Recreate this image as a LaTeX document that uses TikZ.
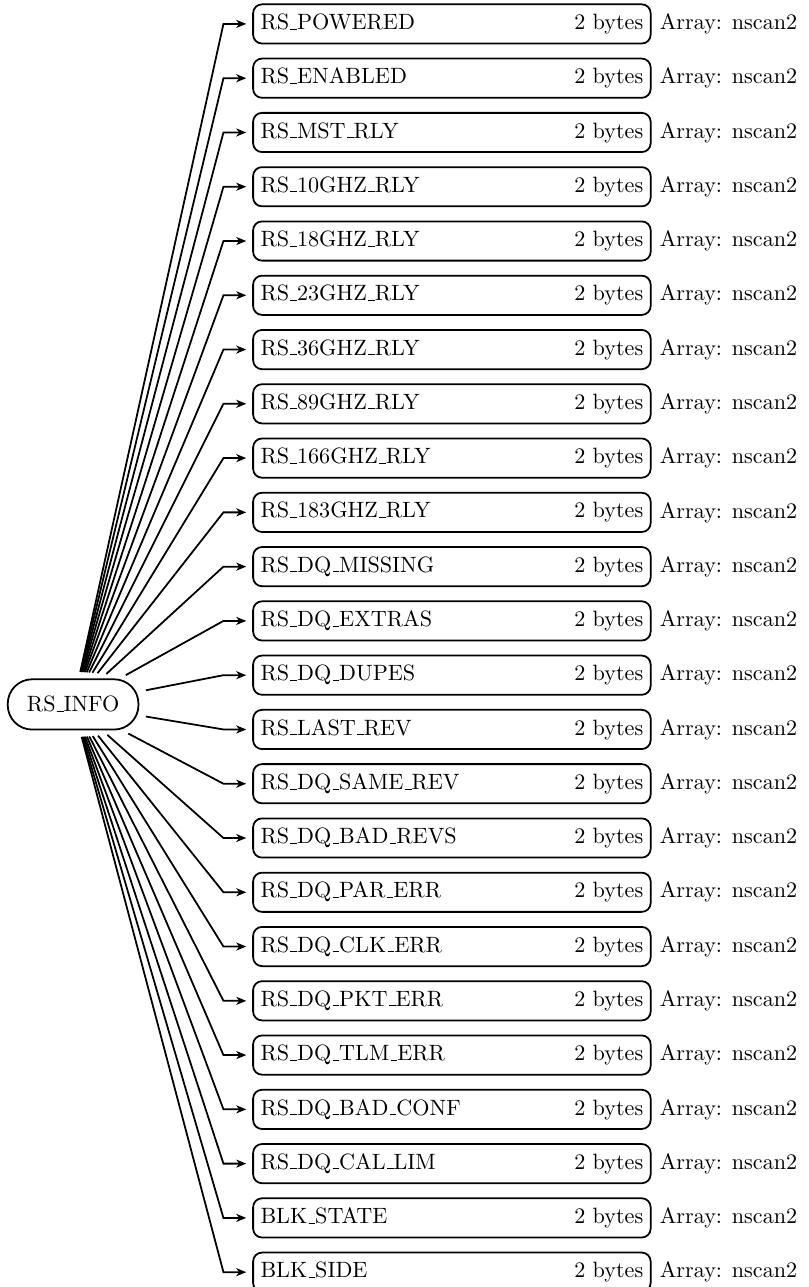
\documentclass[tikz,border=0pt]{standalone}
\usetikzlibrary{positioning,arrows.meta}
% short rule underscore, as in the classic OT1 fonts
\newcommand\us{\leavevmode\kern.06em\vbox{\hrule width.3em}}
\tikzset{
  tree/.style={>={Stealth[length=4.5pt,width=3.6pt,inset=1.3pt]},thick},
  root/.style={draw,rounded corners=11pt,minimum width=59pt,minimum height=22.7pt},
  field/.style={draw,rounded corners=4pt,minimum height=17.7pt,text width=172.8pt,inner sep=3.33pt},
  link/.style={->,shorten <=3pt,shorten >=2.7pt},
}

\begin{document}
\begin{tikzpicture}[tree]
  \useasboundingbox (0,0) rectangle (364.8pt,-581pt);
  \node[root] (info) at (33pt,-318pt) {RS\us INFO};
  % one field box per entry, each fed from the root through an elbow
  \foreach \name [count=\i from 0] in {RS\us POWERED, RS\us ENABLED, RS\us MST\us RLY,
      RS\us 10GHZ\us RLY, RS\us 18GHZ\us RLY, RS\us 23GHZ\us RLY, RS\us 36GHZ\us RLY,
      RS\us 89GHZ\us RLY, RS\us 166GHZ\us RLY, RS\us 183GHZ\us RLY, RS\us DQ\us MISSING,
      RS\us DQ\us EXTRAS, RS\us DQ\us DUPES, RS\us LAST\us REV, RS\us DQ\us SAME\us REV,
      RS\us DQ\us BAD\us REVS, RS\us DQ\us PAR\us ERR, RS\us DQ\us CLK\us ERR, RS\us DQ\us PKT\us ERR,
      RS\us DQ\us TLM\us ERR, RS\us DQ\us BAD\us CONF, RS\us DQ\us CAL\us LIM, BLK\us STATE, BLK\us SIDE}{
    \node[field] (f\i) at (204pt,{-10.8pt-24.5pt*\i}) {\name\hfill 2 bytes};
    \node[right=0pt of f\i] (a\i) {Array: nscan2};
    \coordinate[left=13pt of f\i.west] (e\i);
    \draw[link] (info) -- (e\i) -- (f\i);
  }
\end{tikzpicture}
\end{document}
